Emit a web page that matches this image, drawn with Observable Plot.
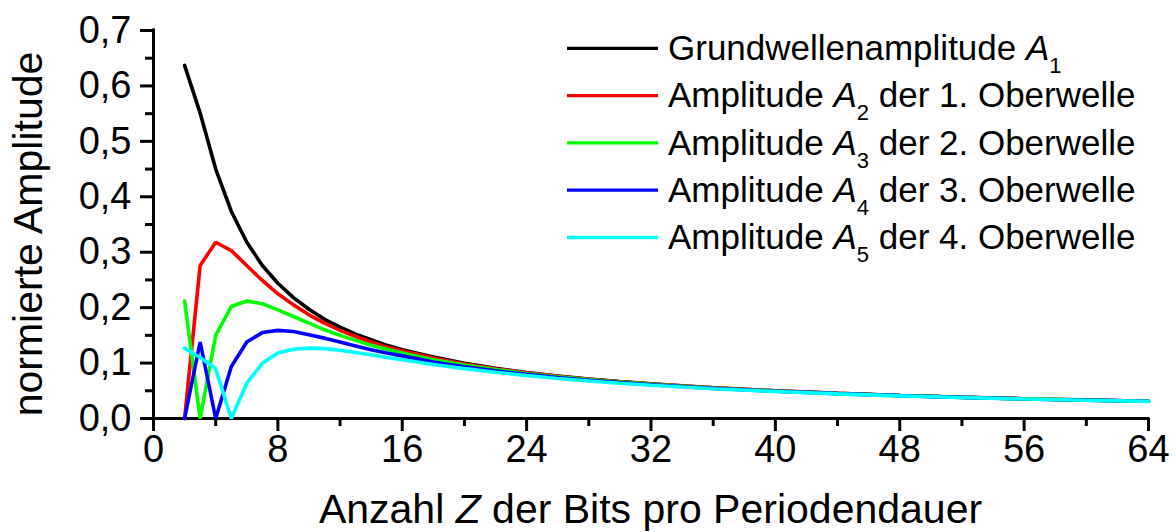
<!DOCTYPE html>
<html>
<head>
<meta charset="utf-8">
<script src="https://cdn.jsdelivr.net/npm/d3@7"></script>
<script src="https://cdn.jsdelivr.net/npm/@observablehq/plot@0.6"></script>
<style>
  html, body { margin: 0; padding: 0; background: #fff; }
  #chart svg { display: block; }
</style>
</head>
<body>
<div id="chart"></div>
<script>
// Number of bits Z per period
const bits = [2, 3, 4, 5, 6, 7, 8, 9, 10, 11, 12, 13, 14, 15, 16,
              18, 20, 22, 24, 26, 28, 30, 32, 36, 40, 44, 48, 52, 56, 60, 64];

// Normalised amplitudes of the fundamental and the first four harmonics
const amp1 = [0.637, 0.551, 0.450, 0.374, 0.318, 0.276, 0.244, 0.218, 0.197, 0.179, 0.165, 0.152, 0.142, 0.132, 0.124,
              0.111, 0.0996, 0.0906, 0.0831, 0.0767, 0.0713, 0.0665, 0.0624, 0.0555, 0.0500, 0.0454, 0.0416, 0.0384, 0.0357, 0.0333, 0.0312];
const amp2 = [0, 0.276, 0.318, 0.303, 0.276, 0.249, 0.225, 0.205, 0.187, 0.172, 0.159, 0.148, 0.138, 0.129, 0.122,
              0.109, 0.0984, 0.0897, 0.0824, 0.0762, 0.0708, 0.0662, 0.0621, 0.0553, 0.0498, 0.0453, 0.0415, 0.0384, 0.0356, 0.0333, 0.0312];
const amp3 = [0.212, 0, 0.150, 0.202, 0.212, 0.207, 0.196, 0.184, 0.172, 0.160, 0.150, 0.141, 0.132, 0.125, 0.118,
              0.106, 0.0963, 0.0882, 0.0812, 0.0753, 0.0701, 0.0656, 0.0616, 0.0549, 0.0495, 0.0451, 0.0414, 0.0382, 0.0355, 0.0332, 0.0311];
const amp4 = [0, 0.138, 0, 0.0935, 0.138, 0.155, 0.159, 0.157, 0.151, 0.145, 0.138, 0.131, 0.124, 0.118, 0.113,
              0.102, 0.0935, 0.0860, 0.0796, 0.0740, 0.0691, 0.0647, 0.0609, 0.0544, 0.0492, 0.0448, 0.0412, 0.0381, 0.0354, 0.0331, 0.0311];
const amp5 = [0.127, 0.110, 0.090, 0, 0.0637, 0.0995, 0.118, 0.125, 0.127, 0.126, 0.123, 0.119, 0.115, 0.110, 0.106,
              0.0975, 0.0900, 0.0834, 0.0775, 0.0723, 0.0677, 0.0637, 0.0600, 0.0538, 0.0487, 0.0445, 0.0409, 0.0379, 0.0352, 0.0330, 0.0309];

const seriesNames = ["A1", "A2", "A3", "A4", "A5"];
const seriesColors = ["#000000", "#ff0000", "#00ff00", "#0000ff", "#00ffff"];
const seriesValues = [amp1, amp2, amp3, amp4, amp5];

// Legend entries: text before the italic symbol, subscript, text after it
const legendPre = ["Grundwellenamplitude ", "Amplitude ", "Amplitude ", "Amplitude ", "Amplitude "];
const legendSub = ["1", "2", "3", "4", "5"];
const legendPost = ["", " der 1. Oberwelle", " der 2. Oberwelle", " der 3. Oberwelle", " der 4. Oberwelle"];

// Axis ticks
const xTicks = [0, 8, 16, 24, 32, 40, 48, 56, 64];
const xMinorTicks = [4, 12, 20, 28, 36, 44, 52, 60];
const yTicks = [0, 0.1, 0.2, 0.3, 0.4, 0.5, 0.6, 0.7];
const yMinorTicks = [0.05, 0.15, 0.25, 0.35, 0.45, 0.55, 0.65];

const rows = seriesValues.flatMap((vals, i) =>
  bits.map((z, j) => ({z, a: vals[j], s: seriesNames[i]})));

const commaFmt = d => d.toFixed(1).replace(".", ",");
const FONT = "'Liberation Sans', Arial, Helvetica, sans-serif";

const plot = Plot.plot({
  width: 1176,
  height: 532,
  marginLeft: 153,
  marginRight: 28,
  marginTop: 30,
  marginBottom: 114,
  style: {fontFamily: FONT, fontSize: "38px", color: "#000", background: "#fff", overflow: "visible"},
  x: {domain: [0, 64]},
  y: {domain: [0, 0.7]},
  color: {domain: seriesNames, range: seriesColors},
  marks: [
    Plot.axisX(xTicks, {tickSize: 13, tickPadding: 4, strokeWidth: 3, label: null, fontSize: 38, tickFormat: d => String(d)}),
    Plot.axisX(xMinorTicks, {tickSize: 8, strokeWidth: 3, text: null, label: null}),
    Plot.axisY(yTicks, {tickSize: 13, tickPadding: 9, strokeWidth: 3, label: null, fontSize: 38, tickFormat: commaFmt}),
    Plot.axisY(yMinorTicks, {tickSize: 8, strokeWidth: 3, text: null, label: null}),
    Plot.ruleX([0], {strokeWidth: 3, strokeLinecap: "square"}),
    Plot.ruleY([0], {strokeWidth: 3, strokeLinecap: "square"}),
    Plot.line(rows, {x: "z", y: "a", z: "s", stroke: "s", strokeWidth: 3.6, strokeLinejoin: "miter"})
  ]
});

document.getElementById("chart").appendChild(plot);

const svg = d3.select(plot);
const xr = plot.scale("x").range;
const yr = plot.scale("y").range;
const cx = (xr[0] + xr[1]) / 2;

// x-axis title with italic Z
const xt = svg.append("text")
  .attr("x", cx).attr("y", 523)
  .attr("text-anchor", "middle")
  .attr("font-family", FONT).attr("font-size", 41).attr("fill", "#000");
xt.append("tspan").text("Anzahl ");
xt.append("tspan").attr("font-style", "italic").text("Z");
xt.append("tspan").text(" der Bits pro Periodendauer");

// y-axis title
svg.append("text")
  .attr("transform", `translate(42, ${(yr[0] + yr[1]) / 2 + 10}) rotate(-90)`)
  .attr("text-anchor", "middle")
  .attr("font-family", FONT).attr("font-size", 41).attr("fill", "#000")
  .text("normierte Amplitude");

// Legend
const legend = svg.append("g")
  .attr("font-family", FONT).attr("fill", "#000").attr("text-anchor", "start");
seriesNames.forEach((name, i) => {
  const y = 48.3 + i * 47.3;
  legend.append("line")
    .attr("x1", 567).attr("x2", 658).attr("y1", y).attr("y2", y)
    .attr("stroke", seriesColors[i]).attr("stroke-width", 3.3);
  const t = legend.append("text")
    .attr("x", 668).attr("y", y + 11.7)
    .attr("font-size", 35).attr("text-anchor", "start");
  t.append("tspan").text(legendPre[i]);
  t.append("tspan").attr("font-style", "italic").text("A");
  t.append("tspan").attr("font-size", 22).attr("dy", 13).text(legendSub[i]);
  if (legendPost[i]) t.append("tspan").attr("dy", -13).text(legendPost[i]);
});
</script>
</body>
</html>
